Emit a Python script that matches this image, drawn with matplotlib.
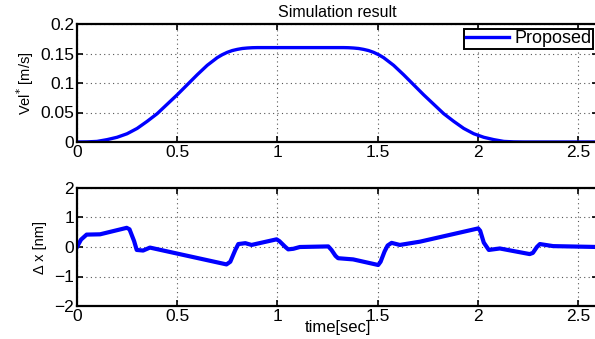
import matplotlib.pyplot as plt

plt.rcParams['font.family'] = ['Liberation Sans', 'DejaVu Sans']

# velocity reference
t_vel = [0.0, 0.05, 0.10, 0.15, 0.20, 0.25, 0.30, 0.35, 0.40, 0.45, 0.50,
         0.55, 0.60, 0.65, 0.70, 0.725, 0.75, 0.775, 0.80, 0.825, 0.85, 0.875,
         0.90, 0.95,
         1.28, 1.33, 1.355, 1.38, 1.405, 1.43, 1.455, 1.48, 1.505, 1.53,
         1.58, 1.63, 1.68, 1.73, 1.78, 1.83, 1.88, 1.93, 1.98, 2.03, 2.08,
         2.13, 2.18, 2.23, 2.6]
vel = [0.0, 0.0002, 0.001, 0.004, 0.008, 0.014, 0.023, 0.035, 0.048, 0.064, 0.080,
       0.097, 0.114, 0.130, 0.143, 0.148, 0.152, 0.155, 0.1570, 0.1585, 0.1593, 0.1598,
       0.160, 0.160,
       0.160, 0.160, 0.1598, 0.1593, 0.1585, 0.1570, 0.155, 0.152, 0.148, 0.143,
       0.130, 0.114, 0.097, 0.080, 0.064, 0.048, 0.035, 0.023, 0.014, 0.008, 0.004,
       0.001, 0.0002, 0.0, 0.0]

# position error
t_err = [0.0, 0.02, 0.048, 0.115, 0.248, 0.262, 0.285, 0.298, 0.33, 0.364,
         0.746, 0.765, 0.79, 0.805, 0.84, 0.871, 0.996, 1.01, 1.04, 1.054,
         1.08, 1.112, 1.254, 1.27, 1.29, 1.303, 1.378, 1.503, 1.515, 1.535,
         1.55, 1.57, 1.611, 1.711, 2.002, 2.012, 2.03, 2.055, 2.11, 2.259,
         2.275, 2.295, 2.31, 2.376, 2.6]
err = [0.0, 0.25, 0.42, 0.43, 0.65, 0.6, 0.2, -0.1, -0.12, -0.02,
       -0.59, -0.5, -0.1, 0.1, 0.13, 0.07, 0.26, 0.2, 0.0, -0.08,
       -0.06, 0.0, 0.02, -0.1, -0.3, -0.38, -0.42, -0.61, -0.5, -0.15,
       0.05, 0.14, 0.07, 0.18, 0.63, 0.55, 0.15, -0.1, -0.05, -0.24,
       -0.2, 0.0, 0.1, 0.03, 0.0]

x_ticks = [0, 0.5, 1, 1.5, 2, 2.5]
x_tick_labels = ['0', '0.5', '1', '1.5', '2', '2.5']
vel_ticks = [0, 0.05, 0.1, 0.15, 0.2]
vel_tick_labels = ['0', '0.05', '0.1', '0.15', '0.2']
err_ticks = [-2, -1, 0, 1, 2]
err_tick_labels = ['\u22122', '\u22121', '0', '1', '2']

fig = plt.figure(figsize=(5.95, 3.39), dpi=100)
left, right = 77 / 595, 598 / 595
ax1 = fig.add_axes([left, 1 - 142 / 339, right - left, 118 / 339])
ax2 = fig.add_axes([left, 1 - 306 / 339, right - left, 118 / 339])

for ax in (ax1, ax2):
    ax.set_xlim(0, 2.6)
    ax.set_xticks(x_ticks)
    ax.set_xticklabels(x_tick_labels)
    ax.grid(True, linestyle=(0, (1, 3)), color='#555555', linewidth=0.8)
    ax.tick_params(direction='in', top=True, right=True, labelsize=12.5,
                   length=4, width=1.2, pad=2)
    for s in ax.spines.values():
        s.set_linewidth(1.6)

ax1.plot(t_vel, vel, color='#0000ff', linewidth=2.4, label='Proposed')
ax1.set_ylim(0, 0.2)
ax1.set_yticks(vel_ticks)
ax1.set_yticklabels(vel_tick_labels)
ax1.set_ylabel('Vel$^{*}$ [m/s]', fontsize=10.5, labelpad=3)
ax1.set_title('Simulation result', fontsize=11.5, pad=5)
leg = ax1.legend(loc='upper right', fontsize=13, fancybox=False, framealpha=1,
                 edgecolor='black', borderpad=0.1, handlelength=2.4,
                 handletextpad=0.3, borderaxespad=0.25)
leg.get_frame().set_linewidth(1.4)

ax2.plot(t_err, err, color='#0000ff', linewidth=3.0)
ax2.set_ylim(-2, 2)
ax2.set_yticks(err_ticks)
ax2.set_yticklabels(err_tick_labels)
ax2.set_ylabel('\u0394 x [nm]', fontsize=10.5, labelpad=5)
ax2.set_xlabel('time[sec]', fontsize=12, labelpad=-3)

fig.savefig('out.png', dpi=100)
